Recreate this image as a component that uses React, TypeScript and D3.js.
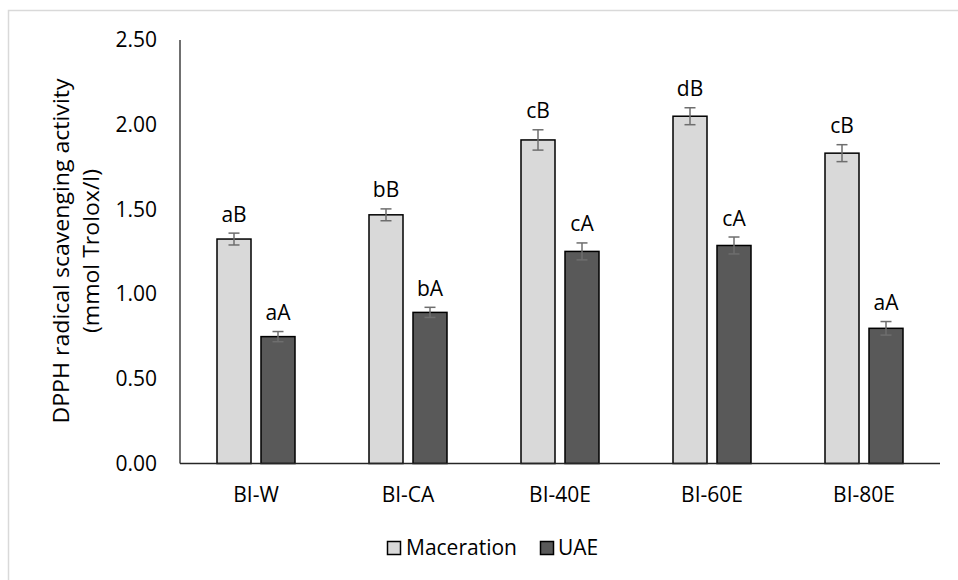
import React from "react";
import * as d3 from "d3";

const categories = ["BI-W", "BI-CA", "BI-40E", "BI-60E", "BI-80E"];
const seriesNames = ["Maceration", "UAE"];
const macerationValues = [1.325, 1.468, 1.91, 2.05, 1.832];
const macerationErrors = [0.035, 0.035, 0.06, 0.05, 0.05];
const macerationLetters = ["aB", "bB", "cB", "dB", "cB"];
const uaeValues = [0.749, 0.892, 1.252, 1.287, 0.798];
const uaeErrors = [0.03, 0.03, 0.05, 0.05, 0.04];
const uaeLetters = ["aA", "bA", "cA", "cA", "aA"];
const yTicks = [0, 0.5, 1.0, 1.5, 2.0, 2.5];
const colors = ["#D9D9D9", "#595959"];

const W = 958;
const H = 580;
const FONT = "'Open Sans', 'Liberation Sans', sans-serif";
const FS = 21;

export default function App() {
  const left = 180;
  const right = 940;
  const top = 40;
  const bottom = 463.5;

  const y = d3.scaleLinear().domain([0, 2.5]).range([bottom, top]);
  const x0 = d3.scaleBand<string>().domain(categories).range([left, right]).padding(0);
  const bw = x0.bandwidth();
  const groupW = 78;
  const x1 = d3
    .scaleBand<string>()
    .domain(seriesNames)
    .range([bw / 2 - groupW / 2, bw / 2 + groupW / 2])
    .paddingInner(10 / 44)
    .paddingOuter(0);
  const barW = x1.bandwidth();

  const series = [
    { name: seriesNames[0], values: macerationValues, errors: macerationErrors, letters: macerationLetters, color: colors[0] },
    { name: seriesNames[1], values: uaeValues, errors: uaeErrors, letters: uaeLetters, color: colors[1] },
  ];

  return (
    <svg
      width={W}
      height={H}
      style={{ position: "absolute", left: 0, top: 0, background: "#fff" }}
      fontFamily={FONT}
    >
      <rect x={8.5} y={10.5} width={970} height={620} fill="#fff" stroke="#D9D9D9" strokeWidth={1.5} />

      {/* y tick labels */}
      {yTicks.map((t) => (
        <text key={t} x={157} y={y(t)} dy="0.35em" textAnchor="end" fontSize={FS} fill="#000">
          {d3.format(".2f")(t)}
        </text>
      ))}

      {/* y axis title */}
      <g transform={`translate(0, 251) rotate(-90)`}>
        <text x={0} y={69} textAnchor="middle" fontSize={FS} fill="#000" textLength={345} lengthAdjust="spacingAndGlyphs">
          DPPH radical scavenging activity
        </text>
        <text x={0} y={99} textAnchor="middle" fontSize={FS} fill="#000" textLength={164} lengthAdjust="spacingAndGlyphs">
          (mmol Trolox/l)
        </text>
      </g>

      {/* bars */}
      {series.map((s) =>
        categories.map((c, i) => {
          const bx = (x0(c) as number) + (x1(s.name) as number);
          const v = s.values[i];
          const e = s.errors[i];
          const cx = bx + barW / 2;
          return (
            <g key={s.name + c}>
              <rect
                x={bx}
                y={y(v)}
                width={barW}
                height={y(0) - y(v)}
                fill={s.color}
                stroke="#000"
                strokeWidth={1.5}
              />
              <line x1={cx} x2={cx} y1={y(v + e)} y2={y(v - e)} stroke="#6E6E6E" strokeWidth={1.5} />
              <line x1={cx - 5.5} x2={cx + 5.5} y1={y(v + e)} y2={y(v + e)} stroke="#6E6E6E" strokeWidth={1.5} />
              <line x1={cx - 5.5} x2={cx + 5.5} y1={y(v - e)} y2={y(v - e)} stroke="#6E6E6E" strokeWidth={1.5} />
              <text x={cx} y={y(v + e) - 11.5} textAnchor="middle" fontSize={FS} fill="#000">
                {s.letters[i]}
              </text>
            </g>
          );
        })
      )}

      {/* axes */}
      <line x1={left} x2={left} y1={top} y2={bottom} stroke="#404040" strokeWidth={1.5} />
      <line x1={left} x2={right} y1={bottom} y2={bottom} stroke="#262626" strokeWidth={1.5} />

      {/* x labels */}
      {categories.map((c) => (
        <text key={c} x={(x0(c) as number) + bw / 2} y={502} textAnchor="middle" fontSize={FS} fill="#000">
          {c}
        </text>
      ))}

      {/* legend */}
      <g>
        <rect x={387.5} y={541.5} width={13} height={13} fill={colors[0]} stroke="#000" strokeWidth={1.5} />
        <text x={406} y={548} dy="0.35em" fontSize={FS} fill="#000">
          {seriesNames[0]}
        </text>
        <rect x={540.5} y={541.5} width={13} height={13} fill={colors[1]} stroke="#000" strokeWidth={1.5} />
        <text x={558} y={548} dy="0.35em" fontSize={FS} fill="#000">
          {seriesNames[1]}
        </text>
      </g>
    </svg>
  );
}
